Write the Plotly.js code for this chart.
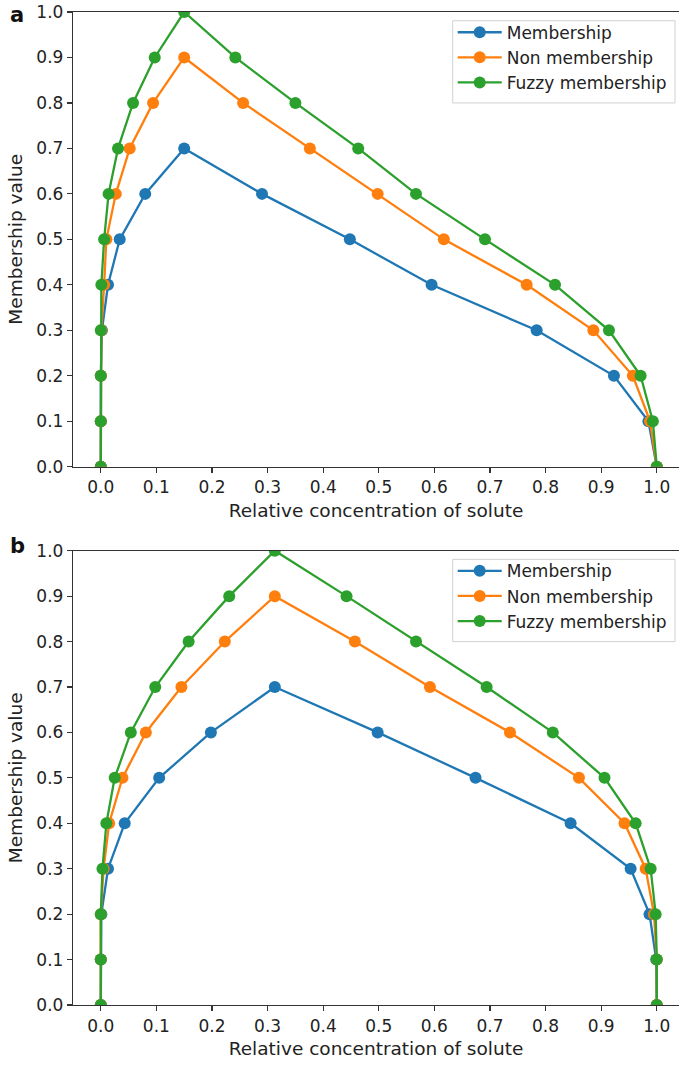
<!DOCTYPE html>
<html>
<head>
<meta charset="utf-8">
<script src="https://cdn.plot.ly/plotly-3.0.1.min.js"></script>
<style>html,body{margin:0;padding:0;background:#fff;}#chart{width:679px;height:1065px;}</style>
</head>
<body>
<div id="chart"></div>
<script>
// Panel a
const aMemY = [0,0.1,0.2,0.3,0.4,0.5,0.6,0.7,0.6,0.5,0.4,0.3,0.2,0.1,0.0];
const aMemX = [0,0,0,0.002,0.013,0.034,0.080,0.150,0.290,0.448,0.595,0.784,0.923,0.985,1.0];
const aNonY = [0,0.1,0.2,0.3,0.4,0.5,0.6,0.7,0.8,0.9,0.8,0.7,0.6,0.5,0.4,0.3,0.2,0.1,0.0];
const aNonX = [0,0,0,0.001,0.006,0.010,0.027,0.052,0.094,0.150,0.256,0.376,0.498,0.617,0.766,0.886,0.957,0.988,1.0];
const aFuzY = [0,0.1,0.2,0.3,0.4,0.5,0.6,0.7,0.8,0.9,1.0,0.9,0.8,0.7,0.6,0.5,0.4,0.3,0.2,0.1,0.0];
const aFuzX = [0,0,0,0,0.001,0.006,0.014,0.031,0.058,0.097,0.150,0.242,0.350,0.463,0.567,0.691,0.817,0.914,0.971,0.993,1.0];
// Panel b
const bMemY = [0,0.1,0.2,0.3,0.4,0.5,0.6,0.7,0.6,0.5,0.4,0.3,0.2,0.1,0.0];
const bMemX = [0,0,0.001,0.013,0.043,0.105,0.198,0.313,0.498,0.674,0.845,0.953,0.987,0.999,1.0];
const bNonY = [0,0.1,0.2,0.3,0.4,0.5,0.6,0.7,0.8,0.9,0.8,0.7,0.6,0.5,0.4,0.3,0.2,0.1,0.0];
const bNonX = [0,0,0,0.005,0.015,0.039,0.081,0.145,0.223,0.313,0.457,0.592,0.736,0.860,0.942,0.980,0.995,1.0,1.0];
const bFuzY = [0,0.1,0.2,0.3,0.4,0.5,0.6,0.7,0.8,0.9,1.0,0.9,0.8,0.7,0.6,0.5,0.4,0.3,0.2,0.1,0.0];
const bFuzX = [0,0,0,0.003,0.010,0.025,0.054,0.098,0.158,0.231,0.313,0.442,0.567,0.694,0.813,0.906,0.962,0.989,0.998,1.0,1.0];

const seriesNames = ['Membership','Non membership','Fuzzy membership'];
const colors = ['#1f77b4','#ff7f0e','#2ca02c'];
const xTickVals = [0,0.1,0.2,0.3,0.4,0.5,0.6,0.7,0.8,0.9,1.0];
const yTickVals = [0,0.1,0.2,0.3,0.4,0.5,0.6,0.7,0.8,0.9,1.0];

const FONT = 'DejaVu Sans';
const TXT = '#222';
const panels = [
  {xs:[aMemX,aNonX,aFuzX], ys:[aMemY,aNonY,aFuzY], xa:'x', ya:'y', lg:'legend'},
  {xs:[bMemX,bNonX,bFuzX], ys:[bMemY,bNonY,bFuzY], xa:'x2', ya:'y2', lg:'legend2'}
];
const data = [];
panels.forEach(p => {
  for (let i = 0; i < 3; i++) {
    data.push({
      type:'scatter', mode:'lines+markers',
      x:p.xs[i], y:p.ys[i], xaxis:p.xa, yaxis:p.ya, legend:p.lg,
      name:seriesNames[i],
      line:{color:colors[i], width:2.3},
      marker:{color:colors[i], size:12}
    });
  }
});

function xax(anchor){
  return {
    anchor:anchor, domain:[0,1], range:[-0.05,1.04],
    tickvals:xTickVals, tickformat:'.1f',
    ticks:'outside', ticklen:5, tickwidth:1.2, tickcolor:'#333',
    showline:true, linecolor:'#333', linewidth:1.2, mirror:true,
    showgrid:false, zeroline:false,
    tickfont:{family:FONT, size:17, color:TXT},
    title:{text:'Relative concentration of solute', font:{family:FONT, size:18.5, color:TXT}, standoff:7}
  };
}
function yax(anchor, domain){
  return {
    anchor:anchor, domain:domain, range:[0,1],
    tickvals:yTickVals, tickformat:'.1f',
    ticks:'outside', ticklen:5, tickwidth:1.2, tickcolor:'#333',
    showline:true, linecolor:'#333', linewidth:1.2, mirror:false,
    showgrid:false, zeroline:false,
    tickfont:{family:FONT, size:17, color:TXT},
    title:{text:'Membership value', font:{family:FONT, size:18.5, color:TXT}, standoff:8}
  };
}
function leg(ytop){
  return {
    x:0.6266, xanchor:'left', y:ytop, yanchor:'top',
    bgcolor:'rgba(0,0,0,0)', borderwidth:0,
    font:{family:FONT, size:17, color:TXT}, itemwidth:44
  };
}
function frame(y0, y1){
  return {type:'rect', xref:'paper', yref:'paper', x0:0.6266, x1:0.9934, y0:y0, y1:y1,
    line:{color:'#d0d0d0', width:1}, fillcolor:'rgba(255,255,255,0.85)', layer:'above'};
}
const layout = {
  width:679, height:1065,
  margin:{l:73, r:0, t:12, b:60},
  paper_bgcolor:'#fff', plot_bgcolor:'#fff',
  font:{family:FONT, color:TXT},
  showlegend:true,
  xaxis:xax('y'), yaxis:yax('x',[0.5421,1]),
  xaxis2:xax('y2'), yaxis2:yax('x2',[0,0.4575]),
  legend:leg(0.9973), legend2:leg(0.4549),
  shapes:[frame(0.9084,0.9912), frame(0.3659,0.4488)],
  annotations:[
    {text:'<b>a</b>', xref:'paper', yref:'paper', x:-0.107, y:0.9973, xanchor:'left', yanchor:'middle', showarrow:false, font:{family:FONT, size:21, color:'#111'}},
    {text:'<b>b</b>', xref:'paper', yref:'paper', x:-0.107, y:0.4625, xanchor:'left', yanchor:'middle', showarrow:false, font:{family:FONT, size:21, color:'#111'}}
  ]
};
Plotly.newPlot('chart', data, layout, {displayModeBar:false, staticPlot:true});
</script>
</body>
</html>
